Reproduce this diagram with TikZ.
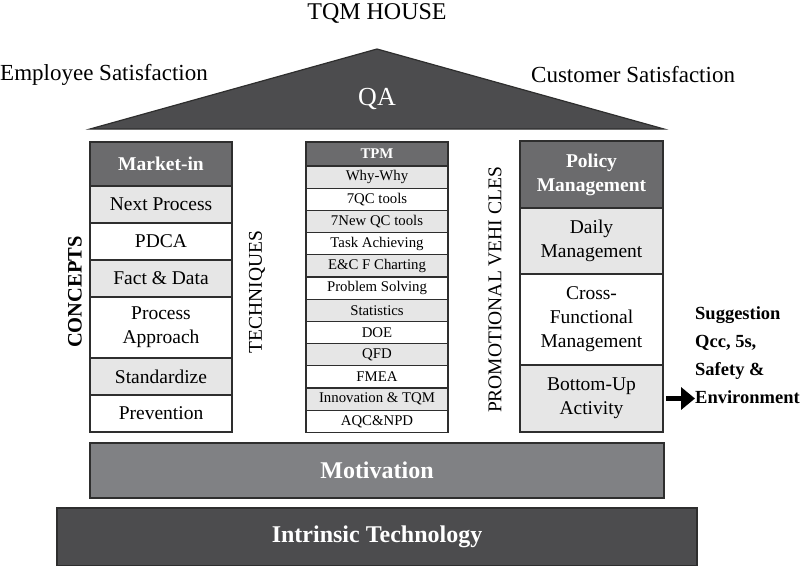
\documentclass[tikz,border=0pt]{standalone}
\usepackage{fontspec}
\setmainfont{Liberation Serif}
\usepackage{tikz}
\usetikzlibrary{positioning,arrows.meta}
\definecolor{roofgray}{HTML}{4C4C4E}
\definecolor{headgray}{HTML}{6B6B6D}
\definecolor{rowgray}{HTML}{E6E6E6}
\definecolor{motivgray}{HTML}{808184}
\definecolor{edgegray}{HTML}{2E2E2E}

\begin{document}
\begin{tikzpicture}[x=1pt, y=-1pt,
				cell/.style={draw=edgegray, line width=1.3pt, inner sep=0pt, outer sep=0pt, align=center, minimum width=142pt},
				head/.style={cell, fill=headgray, text=white, font=\fontsize{19.5}{24}\selectfont\bfseries},
				conc/.style={cell, font=\fontsize{19.5}{24}\selectfont, minimum height=37pt},
				tech/.style={cell, font=\fontsize{14.8}{16}\selectfont, minimum height=22.2pt},
				side/.style={rotate=90, inner sep=0pt, font=\fontsize{19.5}{20}\selectfont},
				band/.style={draw=edgegray, line width=1.3pt, inner sep=0pt, text=white, font=\fontsize{24}{26}\selectfont\bfseries},
				label/.style={inner sep=0pt, font=\fontsize{23}{26}\selectfont}]
				\useasboundingbox (0,0) rectangle (800,565);
				% roof
				\filldraw[fill=roofgray, draw=edgegray, line width=1.2pt] (90,129) -- (377,49) -- (664,129) -- cycle;
				\node (qa) [label, text=white, font=\fontsize{26}{28}\selectfont] at (377,99) {QA};
				\node (title) [label, anchor=base, font=\fontsize{24}{26}\selectfont] at (377,19) {TQM HOUSE};
				\node (emp) [label, anchor=west] at (0,75) {Employee Satisfaction};
				\node (cust) [label, anchor=west] at (531,75) {Customer Satisfaction};
				% concepts
				\node (mkt) [head, minimum height=44pt, anchor=north] at (161,142) {Market-in};
				\node (next) [conc, fill=rowgray, below=0pt of mkt] {Next Process};
				\node (pdca) [conc, fill=white, below=0pt of next] {PDCA};
				\node (fact) [conc, fill=rowgray, below=0pt of pdca] {Fact \& Data};
				\node (proc) [conc, fill=white, minimum height=61pt, below=0pt of fact] {Process\\Approach};
				\node (stand) [conc, fill=rowgray, below=0pt of proc] {Standardize};
				\node (prev) [conc, fill=white, below=0pt of stand] {Prevention};
				% techniques
				\node (tech1) [head, minimum height=24pt, font=\fontsize{14.8}{16}\selectfont\bfseries, anchor=north] at (377,142) {TPM};
				\foreach \txt/\col [count=\i from 2, remember=\i as \j (initially 1)] in
					{Why-Why/rowgray, 7QC tools/white, 7New QC tools/rowgray, Task Achieving/white,
					 E\&C F Charting/rowgray, Problem Solving/white, Statistics/rowgray, DOE/white,
					 QFD/rowgray, FMEA/white, Innovation \& TQM/rowgray, AQC\&NPD/white}
					\node (tech\i) [tech, fill=\col, below=0pt of tech\j] {\txt};
				% promotional vehicles
				\node (policy) [head, minimum width=143pt, minimum height=67pt, anchor=north] at (591.5,141) {Policy\\Management};
				\node (daily) [conc, fill=rowgray, minimum width=143pt, minimum height=66pt, below=0pt of policy] {Daily\\Management};
				\node (cross) [conc, fill=white, minimum width=143pt, minimum height=91pt, below=0pt of daily] {Cross-\\Functional\\Management};
				\node (bottom) [conc, fill=rowgray, minimum width=143pt, minimum height=67pt, below=0pt of cross] {Bottom-Up\\Activity};
				% side labels
				\node (concepts) [side, font=\fontsize{20.5}{22}\selectfont\bfseries] at (75,292) {CONCEPTS};
				\node (techniques) [side] at (257,292) {TECHNIQUES};
				\node (promo) [side] at (495,290) {PROMOTIONAL VEHI CLES};
				% suggestion
				\node (sugg) [inner sep=0pt, anchor=west, align=left, font=\fontsize{18.5}{28}\selectfont\bfseries] at (695,355) {Suggestion\\Qcc, 5s,\\Safety \&\\Environment};
				\draw[-{Triangle[length=14pt, width=22pt]}, line width=4.5pt, shorten <=3pt] (bottom.east) -- (bottom.east -| sugg.west);
				% base
				\node (motiv) [band, fill=motivgray, minimum width=574pt, minimum height=55pt] at (377,470.5) {Motivation};
				\node (intr) [band, fill=roofgray, minimum width=640pt, minimum height=58pt] at (377,537) {Intrinsic Technology};
\end{tikzpicture}
\end{document}
